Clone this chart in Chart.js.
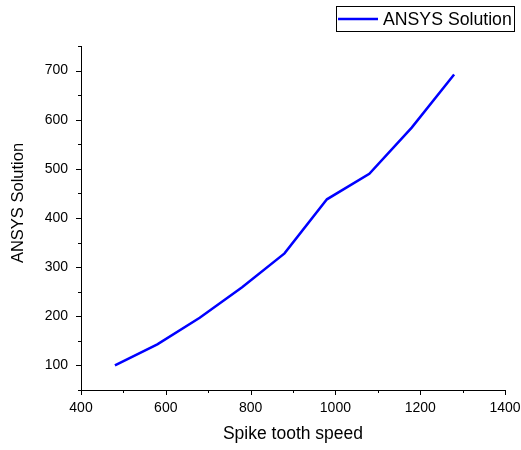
<!DOCTYPE html>
<html>
<head>
<meta charset="utf-8">
<script src="https://cdn.jsdelivr.net/npm/chart.js@4"></script>
<style>
  html, body { margin: 0; padding: 0; background: #fff; }
  canvas { display: block; }
</style>
</head>
<body>
<canvas id="chart" width="521" height="450"></canvas>
<script>
// values
const speeds = [480, 580, 680, 780, 880, 980, 1080, 1180, 1280];
const ansysSolution = [100, 143, 197, 259, 328, 438, 490, 584, 692];
const seriesLabel = 'ANSYS Solution';
const xTitle = 'Spike tooth speed';
const yTitle = 'ANSYS Solution';

const FONT = 'Arial, "Liberation Sans", sans-serif';

// outward major/minor ticks, Origin style
const tickMarks = {
  id: 'tickMarks',
  afterDraw(chart) {
    const { ctx } = chart;
    const xs = chart.scales.x;
    const ys = chart.scales.y;
    ctx.save();
    ctx.strokeStyle = '#000';
    ctx.lineWidth = 1;
    ctx.beginPath();
    xs.ticks.forEach((t) => {
      const px = Math.round(xs.getPixelForValue(t.value)) + 0.5;
      const len = t.value % 200 === 0 ? 5 : 3;
      ctx.moveTo(px, xs.top);
      ctx.lineTo(px, xs.top + len);
    });
    ys.ticks.forEach((t) => {
      const py = Math.round(ys.getPixelForValue(t.value)) + 0.5;
      const len = t.value % 100 === 0 ? 5 : 3;
      ctx.moveTo(ys.right, py);
      ctx.lineTo(ys.right - len, py);
    });
    ctx.stroke();
    ctx.restore();
  },
};

// rotated y title, sits a bit above the middle like the original
const yTitleText = {
  id: 'yTitleText',
  afterDraw(chart) {
    const { ctx } = chart;
    ctx.save();
    ctx.translate(18.5, 203);
    ctx.rotate(-Math.PI / 2);
    ctx.fillStyle = '#000';
    ctx.font = '16.5px ' + FONT;
    ctx.textAlign = 'center';
    ctx.textBaseline = 'middle';
    ctx.fillText(yTitle, 0, 0);
    ctx.restore();
  },
};

// boxed legend in the top right corner
const boxLegend = {
  id: 'boxLegend',
  afterDraw(chart) {
    const { ctx } = chart;
    const ds = chart.data.datasets[0];
    ctx.save();
    ctx.strokeStyle = '#000';
    ctx.lineWidth = 1;
    ctx.strokeRect(336.5, 6.5, 178, 25);
    ctx.strokeStyle = ds.borderColor;
    ctx.lineWidth = 2.5;
    ctx.beginPath();
    ctx.moveTo(338, 19);
    ctx.lineTo(378, 19);
    ctx.stroke();
    ctx.fillStyle = '#000';
    ctx.font = '17.7px ' + FONT;
    ctx.textBaseline = 'middle';
    ctx.fillText(ds.label, 383, 20.5);
    ctx.restore();
  },
};

new Chart(document.getElementById('chart'), {
  type: 'scatter',
  data: {
    datasets: [{
      label: seriesLabel,
      data: speeds.map((s, i) => ({ x: s, y: ansysSolution[i] })),
      showLine: true,
      borderColor: '#0000ff',
      backgroundColor: '#0000ff',
      borderWidth: 2.5,
      pointRadius: 0,
      tension: 0,
    }],
  },
  options: {
    responsive: false,
    animation: false,
    layout: { padding: { top: 46, right: 16, left: 0, bottom: 0 } },
    plugins: {
      legend: { display: false },
      tooltip: { enabled: false },
    },
    scales: {
      x: {
        type: 'linear',
        min: 400,
        max: 1400,
        grid: { display: false, drawTicks: false },
        border: { display: true, color: '#000', width: 1 },
        ticks: {
          stepSize: 100,
          padding: 10,
          color: '#000',
          font: { size: 14, family: FONT },
          maxRotation: 0,
          autoSkip: false,
          callback: (v) => (v % 200 === 0 ? v : ''),
        },
        title: {
          display: true,
          text: xTitle,
          color: '#000',
          font: { size: 17.5, family: FONT },
          padding: { top: 0, bottom: 5 },
        },
        afterFit(scale) {
          scale.height = 60;
          scale.paddingLeft = 0;
          scale.paddingRight = 0;
        },
      },
      y: {
        min: 50,
        max: 750,
        grid: { display: false, drawTicks: false },
        border: { display: true, color: '#000', width: 1 },
        ticks: {
          stepSize: 50,
          padding: 13,
          color: '#000',
          font: { size: 14, family: FONT },
          autoSkip: false,
          callback: (v) => (v % 100 === 0 ? v : ''),
        },
        afterFit(scale) {
          scale.width = 81;
          scale.paddingTop = 0;
          scale.paddingBottom = 0;
        },
      },
    },
  },
  plugins: [tickMarks, yTitleText, boxLegend],
});
</script>
</body>
</html>
